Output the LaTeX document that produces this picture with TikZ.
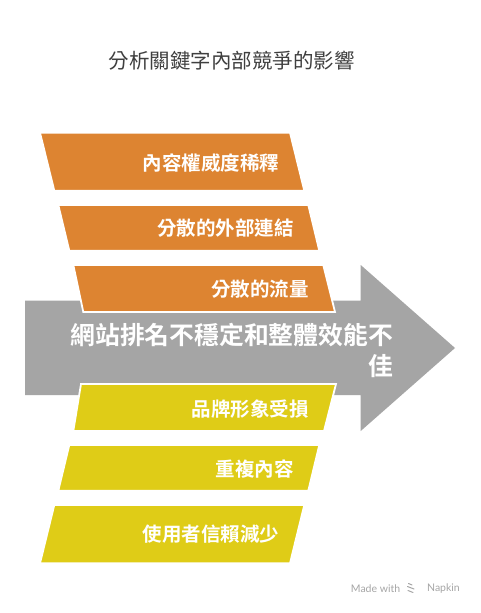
\documentclass[tikz,border=0pt]{standalone}
\usepackage{fontspec}
\newfontfamily\cjk{Noto Sans CJK TC}
\newfontfamily\cjkb{Noto Sans CJK TC Bold}
\setmainfont{Noto Sans CJK TC}
\definecolor{orng}{HTML}{DD8431}
\definecolor{ylw}{HTML}{DFCC17}
\definecolor{gry}{HTML}{A5A5A5}
\definecolor{ttl}{HTML}{3F3F3F}
\definecolor{wm}{HTML}{A6A6A6}
\tikzset{
  bar/.style={draw=white, line width=1.8pt, line join=miter},
  obar/.style={bar, fill=orng},
  ybar/.style={bar, fill=ylw},
  lbl/.style={anchor=east, inner sep=0pt, text=white, font=\cjkb\fontsize{19.5}{22}\selectfont},
}
\begin{document}
\begin{tikzpicture}[x=1pt,y=-1pt]
\useasboundingbox (0,0) rectangle (480,613);
\fill[white] (0,0) rectangle (480,613);
% title
\node[inner sep=0pt, text=ttl, font=\cjk\fontsize{20.5}{24}\selectfont] (title) at (231.7,60.7) {分析關鍵字內部競爭的影響};
% arrow
\fill[gry] (25,300.7) -- (360.7,300.7) -- (360.7,265) -- (455,348) -- (360.7,431) -- (360.7,395) -- (25,395) -- cycle;
% orange bars
\path[obar] (40,132.7) -- (290,132.7) -- (304.3,190.7) -- (54.3,190.7) -- cycle;
\path[obar] (58.3,205) -- (308.3,205) -- (319.3,250.7) -- (69.3,250.7) -- cycle;
\path[obar] (73.3,265) -- (323.3,265) -- (335,312) -- (83.3,312) -- cycle;
% yellow bars
\path[ybar] (81,384) -- (336,384) -- (324,431) -- (73.3,431) -- cycle;
\path[ybar] (69.3,445) -- (319.3,445) -- (308.3,490.7) -- (58.3,490.7) -- cycle;
\path[ybar] (54.3,505) -- (304.3,505) -- (290,563.3) -- (40,563.3) -- cycle;
% labels
\node[lbl] (o1) at (279.3,162.7) {內容權威度稀釋};
\node[lbl] (o2) at (294,228.3) {分散的外部連結};
\node[lbl] (o3) at (308.7,289.3) {分散的流量};
\node[anchor=east, inner sep=0pt, text=white, align=right, font=\cjkb\fontsize{24.8}{31}\selectfont] (main) at (393,350.5) {網站排名不穩定和整體效能不\\佳};
\node[lbl] (y1) at (308.7,409.3) {品牌形象受損};
\node[lbl] (y2) at (294,469.3) {重複內容};
\node[lbl] (y3) at (279.3,534) {使用者信賴減少};
% watermark
\node[anchor=west, inner sep=0pt, text=wm, font=\fontspec{Lato}\fontsize{10.5}{12}\selectfont] (wm1) at (350.7,588.3) {Made with};
\node[anchor=east, inner sep=0pt, text=wm, font=\fontspec{Lato}\fontsize{10.5}{12}\selectfont] (wm2) at (460,588.3) {Napkin};
\begin{scope}[wm, line width=1pt, line cap=round]
\draw (408.5,583.5) -- (412,585);
\draw (407.5,586.5) -- (414,589);
\draw (408,590.5) -- (413,592.5);
\end{scope}
\end{tikzpicture}
\end{document}
